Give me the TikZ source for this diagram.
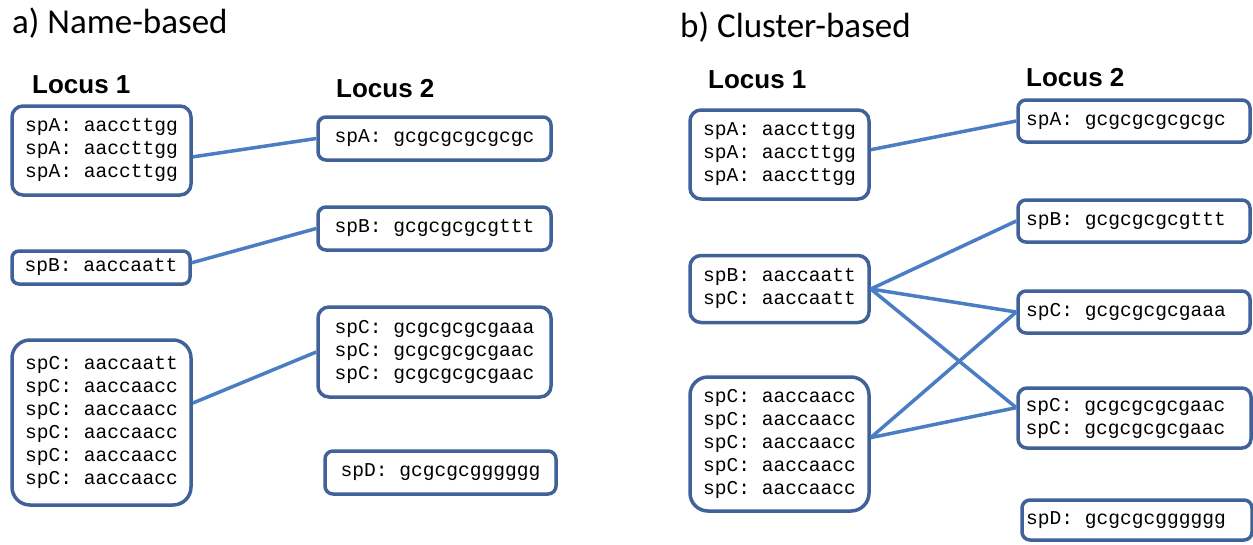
\documentclass[tikz,border=0pt]{standalone}
\usepackage{fontspec}
\setmainfont{Carlito}
\newfontfamily\locusfam{Liberation Sans}
\newfontfamily\seqfam{Liberation Mono}
\definecolor{boxblue}{RGB}{64,98,152}
\definecolor{linkblue}{RGB}{74,125,196}

\begin{document}
\begin{tikzpicture}[x=1pt, y=-1pt,
  seqbox/.style={draw=boxblue, line width=3.5pt, rounded corners=11pt, fill=white,
    font=\seqfam\fontsize{19.6}{23}\selectfont, align=flush left, inner sep=0pt},
  link/.style={draw=linkblue, line width=3.5pt},
  locus/.style={font=\locusfam\bfseries\fontsize{26}{30}\selectfont, anchor=base west, inner sep=0pt},
  paneltitle/.style={font=\fontsize{35}{40}\selectfont, anchor=base west, inner sep=0pt}]
  \useasboundingbox (0,0) rectangle (1253,544);

  % a) name-based
  \node[paneltitle] (ta) at (12,33) {a) Name-based};
  \node[locus] (la1) at (32,93) {Locus 1};
  \node[locus] (la2) at (336,97) {Locus 2};

  \node[seqbox, minimum width=179, minimum height=89] (a1) at (101.5,150.5)
    {spA: aaccttgg\\spA: aaccttgg\\spA: aaccttgg};
  \node[seqbox, minimum width=178, minimum height=33, rounded corners=7pt] (b1) at (101,267.5)
    {spB: aaccaatt};
  \node[seqbox, minimum width=179, minimum height=165, rounded corners=18pt] (c1) at (101.5,422.5)
    {spC: aaccaatt\\spC: aaccaacc\\spC: aaccaacc\\spC: aaccaacc\\spC: aaccaacc\\spC: aaccaacc};

  \node[seqbox, minimum width=233, minimum height=43, rounded corners=8pt] (a2) at (434.5,138.5)
    {spA: gcgcgcgcgcgc};
  \node[seqbox, minimum width=233, minimum height=43, rounded corners=8pt] (b2) at (434.5,228.5)
    {spB: gcgcgcgcgttt};
  \node[seqbox, minimum width=233, minimum height=90] (c2) at (434.5,352)
    {spC: gcgcgcgcgaaa\\spC: gcgcgcgcgaac\\spC: gcgcgcgcgaac};
  \node[seqbox, minimum width=231, minimum height=43, rounded corners=8pt] (d2) at (440.5,472.5)
    {spD: gcgcgcgggggg};

  \draw[link] (a1.-4) -- (a2.west);
  \draw[link] (b1.3) -- (b2.west);
  \draw[link] (c1.12) -- (c2.west);

  % b) cluster-based
  \node[paneltitle] (tb) at (680,37) {b) Cluster-based};
  \node[locus] (lb1) at (708,88) {Locus 1};
  \node[locus] (lb2) at (1026,86) {Locus 2};

  \node[seqbox, minimum width=179, minimum height=89] (ra1) at (779.5,154.5)
    {spA: aaccttgg\\spA: aaccttgg\\spA: aaccttgg};
  \node[seqbox, minimum width=179, minimum height=67] (rbc) at (779.5,289)
    {spB: aaccaatt\\spC: aaccaatt};
  \node[seqbox, minimum width=179, minimum height=134, rounded corners=18pt] (rc1) at (779.5,444)
    {spC: aaccaacc\\spC: aaccaacc\\spC: aaccaacc\\spC: aaccaacc\\spC: aaccaacc};

  \node[seqbox, minimum width=232, minimum height=42, rounded corners=8pt, text width=216] (ra2) at (1134,121)
    {spA: gcgcgcgcgcgc};
  \node[seqbox, minimum width=232, minimum height=42, rounded corners=8pt, text width=216] (rb2) at (1134,221)
    {spB: gcgcgcgcgttt};
  \node[seqbox, minimum width=232, minimum height=42, rounded corners=8pt, text width=216] (rc2a) at (1134,312)
    {spC: gcgcgcgcgaaa};
  \node[seqbox, minimum width=233, minimum height=60, rounded corners=9pt, text width=218] (rc2b) at (1134.5,418)
    {spC: gcgcgcgcgaac\\spC: gcgcgcgcgaac};
  \node[seqbox, minimum width=230, minimum height=40, rounded corners=8pt, text width=222] (rd2) at (1137,520)
    {spD: gcgcgcgggggg};

  \draw[link] (ra1.3) -- (ra2.west);
  \draw[link] (rbc.east) -- (rb2.west);
  \draw[link] (rbc.east) -- (rc2a.west);
  \draw[link] (rbc.east) -- (rc2b.175);
  \draw[link] (rc1.4) -- (rc2a.west);
  \draw[link] (rc1.4) -- (rc2b.175);
\end{tikzpicture}
\end{document}
